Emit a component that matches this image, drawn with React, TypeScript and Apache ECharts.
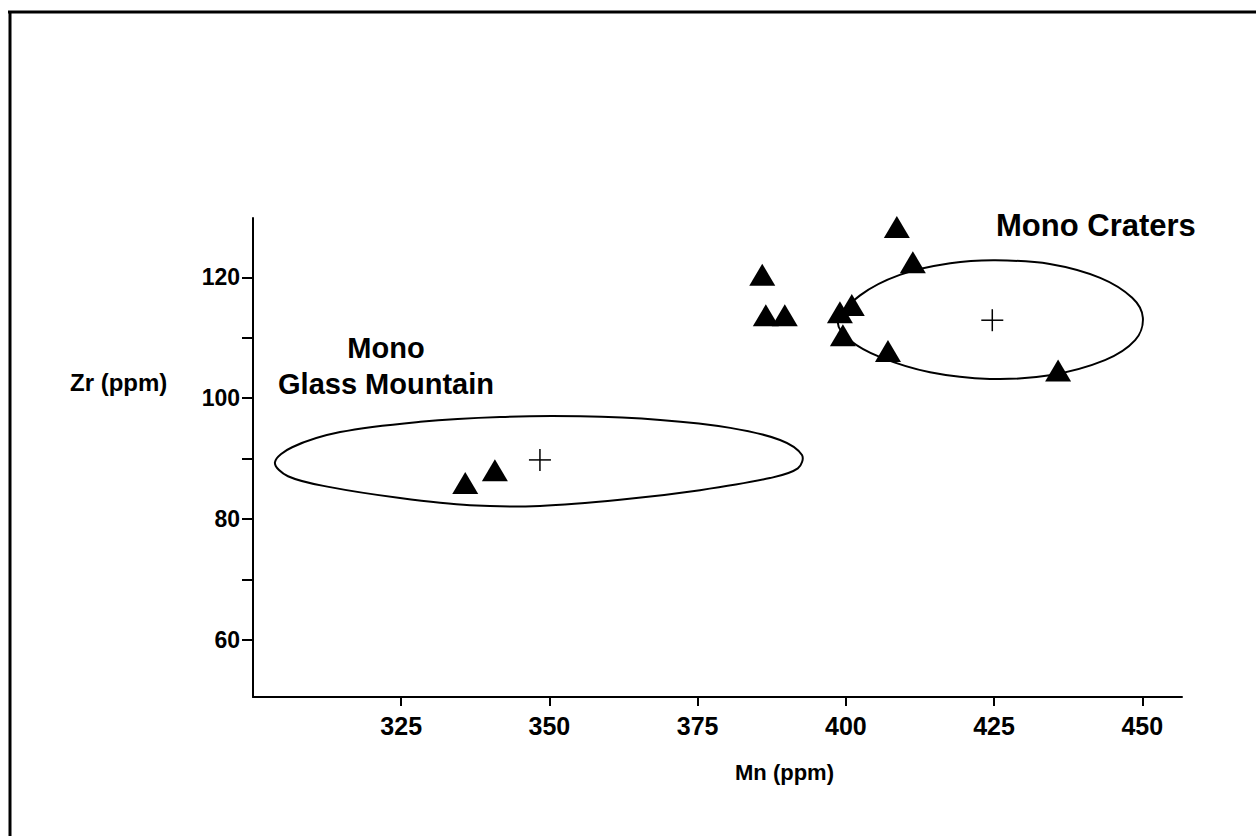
import React, { useEffect, useRef } from "react";
import * as echarts from "echarts";

// Axis ranges (Mn on x, Zr on y)
const xRange = [300, 456.7];
const yRange = [50.6, 129.8];
const xTickValues = [325, 350, 375, 400, 425, 450];
const yTickValues = [60, 70, 80, 90, 100, 110, 120];
const yLabelValues = [60, 80, 100, 120];

// Samples (Mn ppm, Zr ppm)
const samples: number[][] = [
  [335.8, 86.0],
  [340.8, 88.1],
  [385.9, 120.4],
  [386.5, 113.7],
  [389.7, 113.7],
  [399.0, 114.2],
  [399.5, 110.4],
  [401.0, 115.4],
  [407.1, 107.8],
  [408.6, 128.3],
  [411.3, 122.5],
  [435.8, 104.6],
];

// Group means (crosses)
const means: number[][] = [
  [348.4, 89.8],
  [424.7, 112.9],
];

// Outline of the Mono Glass Mountain field
const glassOutline: number[][] = [
  [303.7, 89.4], [306.6, 91.9], [314.7, 94.4], [328.2, 96.1], [341.7, 96.9],
  [355.2, 97.0], [368.7, 96.4], [380.5, 95.1], [388.9, 93.1], [392.6, 90.6],
  [391.9, 88.4], [387.2, 86.8], [375.4, 84.8], [361.9, 83.2], [348.4, 82.2],
  [336.6, 82.3], [324.8, 83.5], [313.0, 85.3], [305.9, 87.1],
];

// Outline of the Mono Craters field
const cratersOutline: number[][] = [
  [398.7, 112.6], [402.4, 117.0], [409.1, 120.4], [417.6, 122.3], [425.2, 122.8],
  [434.4, 122.2], [442.9, 119.9], [448.3, 116.6], [450.1, 113.3], [448.8, 109.6],
  [443.7, 106.3], [434.4, 103.8], [424.3, 103.2], [414.2, 104.3], [405.8, 106.8],
  [400.7, 109.6],
];

const FONT = "'Liberation Sans', Arial, Helvetica, sans-serif";

function outlineSeries(name: string, pts: number[][]) {
  return {
    type: "custom",
    name,
    data: pts,
    encode: { x: 0, y: 1 },
    silent: true,
    z: 1,
    renderItem: (params: any, api: any) => {
      if (params.dataIndex !== 0) return null;
      const points = pts.map((p) => api.coord(p));
      return {
        type: "polygon",
        shape: { points, smooth: 0.35 },
        style: { fill: "none", stroke: "#000", lineWidth: 2 },
      };
    },
  };
}

export default function App() {
  const ref = useRef<HTMLDivElement>(null);
  useEffect(() => {
    if (!ref.current) return;
    const chart = echarts.init(ref.current, null, { renderer: "svg" });
    chart.setOption({
      animation: false,
      backgroundColor: "#fff",
      grid: { left: 253, right: 74, top: 218, bottom: 139 },
      xAxis: {
        type: "value",
        min: xRange[0],
        max: xRange[1],
        axisLine: { show: true, lineStyle: { color: "#000", width: 2 } },
        axisTick: { show: true, customValues: xTickValues, length: 9, lineStyle: { color: "#000", width: 2 } },
        axisLabel: {
          customValues: xTickValues,
          color: "#000",
          fontSize: 25,
          fontWeight: "bold",
          fontFamily: FONT,
          margin: 16,
        },
        splitLine: { show: false },
      },
      yAxis: {
        type: "value",
        min: yRange[0],
        max: yRange[1],
        axisLine: { show: true, lineStyle: { color: "#000", width: 2 } },
        axisTick: { show: true, customValues: yTickValues, length: 11, lineStyle: { color: "#000", width: 2 } },
        axisLabel: {
          customValues: yLabelValues,
          color: "#000",
          fontSize: 23,
          fontWeight: "bold",
          fontFamily: FONT,
          margin: 13,
        },
        splitLine: { show: false },
      },
      graphic: [
        { type: "line", shape: { x1: 8, y1: 12, x2: 1256, y2: 12 }, style: { stroke: "#000", lineWidth: 3 } },
        { type: "line", shape: { x1: 10, y1: 11, x2: 10, y2: 836 }, style: { stroke: "#000", lineWidth: 3 } },
        {
          type: "text", left: 70, top: 370,
          style: { text: "Zr (ppm)", font: `bold 24px ${FONT}`, fill: "#000" },
        },
        {
          type: "text", left: 735, top: 761,
          style: { text: "Mn (ppm)", font: `bold 22px ${FONT}`, fill: "#000" },
        },
        {
          type: "text", left: 996, top: 210,
          style: { text: "Mono Craters", font: `bold 31px ${FONT}`, fill: "#000" },
        },
        {
          type: "text", x: 386, y: 330,
          style: { text: "Mono\nGlass Mountain", font: `bold 29px ${FONT}`, fill: "#000", align: "center", lineHeight: 36 },
        },
      ],
      series: [
        outlineSeries("Mono Glass Mountain field", glassOutline),
        outlineSeries("Mono Craters field", cratersOutline),
        {
          type: "custom",
          name: "Mean",
          data: means,
          encode: { x: 0, y: 1 },
          z: 3,
          renderItem: (params: any, api: any) => {
            const c = api.coord([api.value(0), api.value(1)]);
            const h = 11;
            return {
              type: "group",
              children: [
                { type: "line", shape: { x1: c[0] - h, y1: c[1], x2: c[0] + h, y2: c[1] }, style: { stroke: "#000", lineWidth: 1.5 } },
                { type: "line", shape: { x1: c[0], y1: c[1] - h, x2: c[0], y2: c[1] + h }, style: { stroke: "#000", lineWidth: 1.5 } },
              ],
            };
          },
        },
        {
          type: "scatter",
          name: "Samples",
          data: samples,
          symbol: "triangle",
          symbolSize: [26, 22],
          itemStyle: { color: "#000", opacity: 1 },
          z: 4,
        },
      ],
    });
    return () => chart.dispose();
  }, []);
  return (
    <div
      ref={ref}
      style={{ position: "absolute", left: 0, top: 0, width: 1256, height: 836, background: "#fff" }}
    />
  );
}
